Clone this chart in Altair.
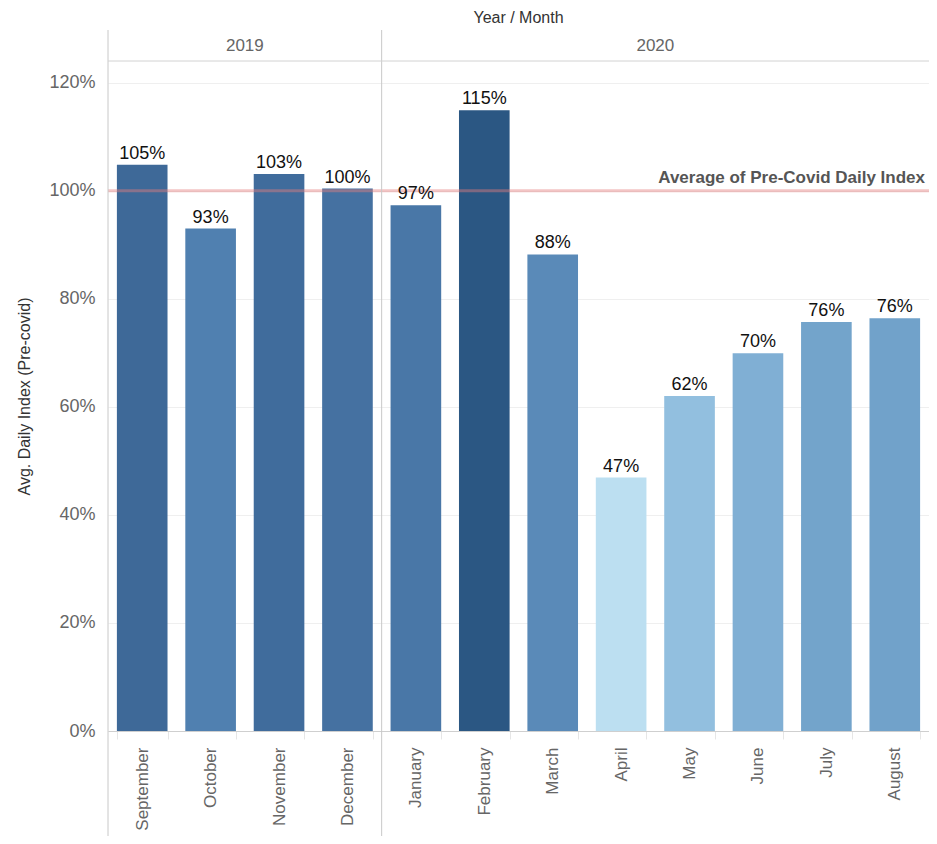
import altair as alt
import pandas as pd

# ---- data ----
YEARS = ["2019", "2020"]
MONTHS_2019 = ["September", "October", "November", "December"]
VALUES_2019 = [1.048, 0.930, 1.031, 1.004]
MONTHS_2020 = ["January", "February", "March", "April", "May", "June", "July", "August"]
VALUES_2020 = [0.973, 1.149, 0.882, 0.469, 0.620, 0.699, 0.757, 0.764]
REF_VALUE = 1.0
REF_LABEL = "Average of Pre-Covid Daily Index"
Y_TICKS = [0, 0.2, 0.4, 0.6, 0.8, 1.0, 1.2]
TITLE = "Year / Month"
Y_TITLE = "Avg. Daily Index (Pre-covid)"

FONT = "Liberation Sans"
W, H = 821, 670
PAD_L, PAD_T, PAD_B = 100, 53, 105
YMAX = 1.24
PAD = 0.26

MONTHS = MONTHS_2019 + MONTHS_2020
VALUES = VALUES_2019 + VALUES_2020
STEP = W / len(MONTHS)
GAP = PAD / 2 * STEP  # pixels from a band's end to the boundary with the next band

df = pd.DataFrame({"Month": MONTHS, "Value": VALUES})
# header label sits on the boundary after the middle month of each year
years_df = pd.DataFrame({
    "Year": YEARS,
    "Month": [MONTHS_2019[len(MONTHS_2019) // 2 - 1], MONTHS_2020[len(MONTHS_2020) // 2 - 1]],
})
# separator after the last month of 2019
sep_df = pd.DataFrame({"Month": [MONTHS_2019[-1]]})
ref_df = pd.DataFrame({"Value": [REF_VALUE]})
one = pd.DataFrame({"k": [0]})

RAMP_COLORS = ["#bcdff1", "#92bfdf", "#72a3cb", "#5080b0", "#3f6a9a", "#2b5783"]
RAMP_DOMAIN = [min(VALUES), 0.62, 0.76, 0.93, 1.04, max(VALUES)]

xscale = alt.Scale(domain=MONTHS, paddingInner=PAD, paddingOuter=PAD / 2)
x = alt.X(
    "Month:N",
    sort=MONTHS,
    scale=xscale,
    axis=alt.Axis(
        title=None, labelAngle=270, labelFontSize=17, labelColor="#666666",
        labelFont=FONT, labelPadding=8, domainColor="#cfcfcf",
        tickColor="#e6e6e6", tickSize=8, tickBand="extent",
    ),
)
x_edge = alt.X("Month:N", sort=MONTHS, scale=xscale, bandPosition=1)
y = alt.Y(
    "Value:Q",
    scale=alt.Scale(domain=[0, YMAX], nice=False),
    axis=alt.Axis(
        title=Y_TITLE, titleFontSize=16, titleColor="#333333", titleFont=FONT,
        titleFontWeight="normal", titlePadding=16,
        labelFontSize=18, labelColor="#666666", labelFont=FONT, labelPadding=13,
        ticks=False, domain=False, values=Y_TICKS, format=".0%",
        grid=True, gridColor="#efefef",
    ),
)

bars = alt.Chart(df).mark_bar().encode(
    x=x,
    y=y,
    color=alt.Color(
        "Value:Q",
        scale=alt.Scale(domain=RAMP_DOMAIN, range=RAMP_COLORS, interpolate="rgb"),
        legend=None,
    ),
)
ref = alt.Chart(ref_df).mark_rule(color="#e57f7f", strokeWidth=3, opacity=0.45).encode(y=y)
labels = alt.Chart(df).mark_text(
    baseline="alphabetic", dy=-6, fontSize=18, font=FONT, color="#111111"
).encode(x=x, y=y, text=alt.Text("Value:Q", format=".0%"))
note = alt.Chart(ref_df).mark_text(
    align="right", baseline="alphabetic", dy=-8, fontSize=17,
    fontWeight="bold", color="#555555", font=FONT,
).encode(x=alt.value(W - 4), y=y, text=alt.value(REF_LABEL))

SEP_BOTTOM = H + PAD_B
left_sep = alt.Chart(one).mark_rule(color="#c8c8c8", strokeWidth=1).encode(
    x=alt.value(0), y=alt.value(-31), y2=alt.value(SEP_BOTTOM)
)
year_sep = alt.Chart(sep_df).mark_rule(color="#c8c8c8", strokeWidth=1, xOffset=GAP).encode(
    x=x_edge, y=alt.value(-31), y2=alt.value(SEP_BOTTOM),
)
head_line = alt.Chart(one).mark_rule(color="#d2d2d2", strokeWidth=1).encode(
    x=alt.value(0), x2=alt.value(W), y=alt.value(0)
)
year_text = alt.Chart(years_df).mark_text(
    baseline="alphabetic", fontSize=17, color="#666666", font=FONT, dx=GAP
).encode(x=x_edge, y=alt.value(-10), text="Year:N")
title_text = alt.Chart(one).mark_text(
    baseline="alphabetic", fontSize=16, color="#333333", font=FONT
).encode(x=alt.value(W / 2), y=alt.value(-38), text=alt.value(TITLE))

chart = (
    alt.layer(bars, ref, labels, note, left_sep, year_sep, head_line, year_text, title_text)
    .properties(
        width=W,
        height=H,
        autosize=alt.AutoSizeParams(type="none"),
        padding={"left": PAD_L, "top": PAD_T, "right": 0, "bottom": PAD_B},
    )
    .configure_view(stroke=None)
)

chart.save("out.html", embed_options={"renderer": "svg", "actions": False})
